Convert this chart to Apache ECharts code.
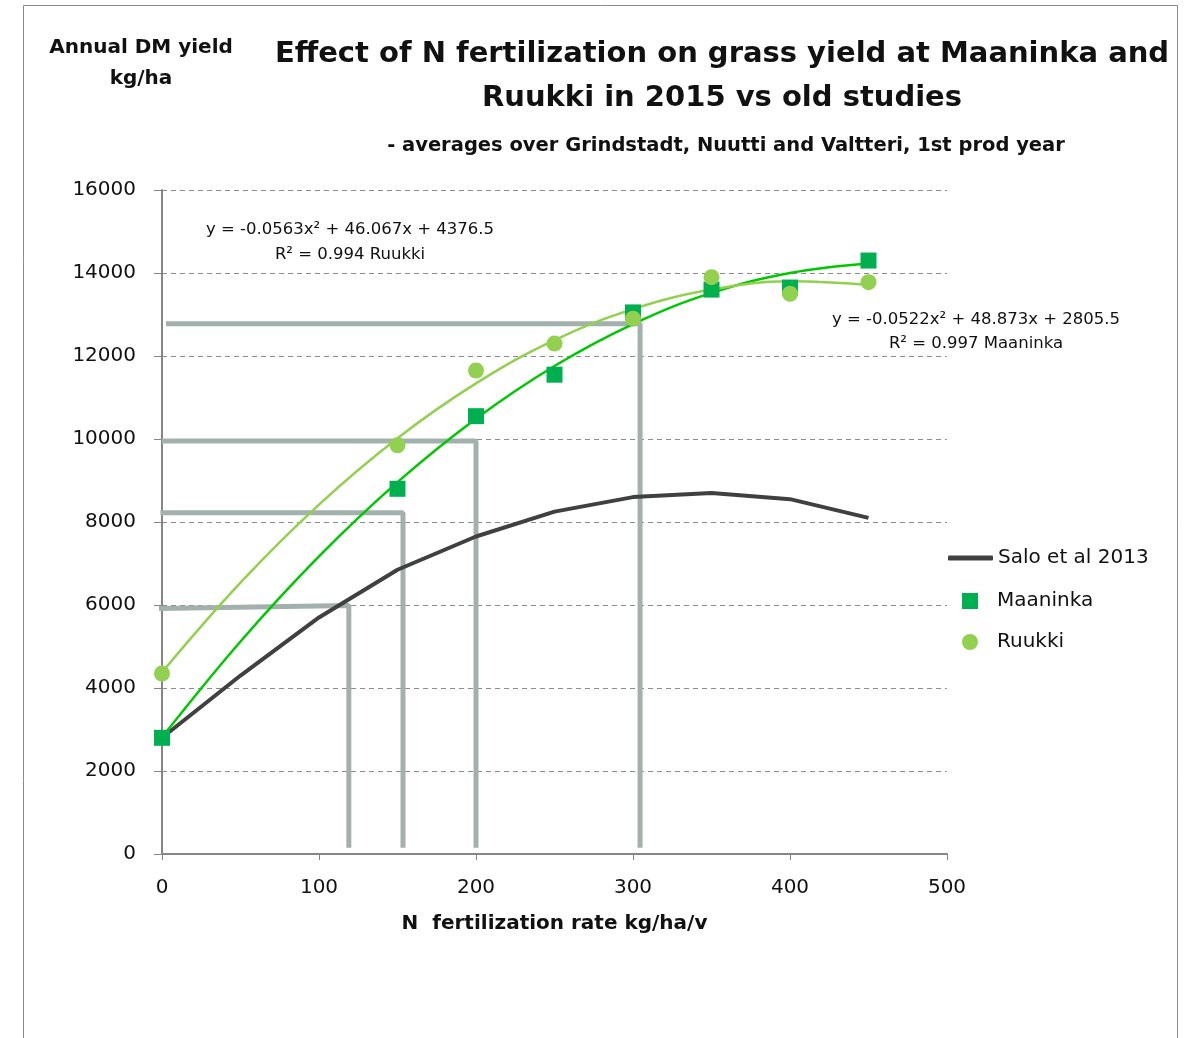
<!DOCTYPE html>
<html>
<head>
<meta charset="utf-8">
<script src="https://cdn.jsdelivr.net/npm/echarts@6/dist/echarts.min.js"></script>
<style>
html,body{margin:0;padding:0;background:#fff;}
#chart{width:1192px;height:1038px;}
</style>
</head>
<body>
<div id="chart"></div>
<script>
// ---- data ----
const rates = [0, 50, 100, 150, 200, 250, 300, 350, 400, 450];
const saloValues = [2800, 4300, 5700, 6850, 7650, 8250, 8600, 8700, 8550, 8100];

const measuredRates = [0, 150, 200, 250, 300, 350, 400, 450];
const maaninkaValues = [2800, 8800, 10550, 11550, 13050, 13600, 13650, 14300];
const ruukkiValues = [4350, 9850, 11650, 12300, 12900, 13900, 13500, 13780];

// trend curves
const maaninkaTrend = [2810, 5120, 7170, 8960, 10490, 11760, 12770, 13520, 14000, 14230];
const ruukkiTrend = [4380, 6540, 8420, 10020, 11340, 12380, 13130, 13600, 13800, 13710];

// helper (read-off) guide lines drawn on the chart
const guide1 = [[2.5, 12780], [304.5, 12780], [304.5, 150]];
const guide2 = [[0, 9950], [200, 9950], [200, 150]];
const guide3 = [[-1, 8220], [153.5, 8220], [153.5, 150]];
const guide4 = [[-7.5, 5910], [119, 5990], [119, 150]];

const xTicks = [0, 100, 200, 300, 400, 500];
const yTicks = [0, 2000, 4000, 6000, 8000, 10000, 12000, 14000, 16000];

const FONT = '"DejaVu Sans", Verdana, sans-serif';
const pair = (xs, ys) => xs.map((x, i) => [x, ys[i]]);

const guideStyle = { color: '#A3B1AE', width: 5 };
const guideSeries = [guide1, guide2, guide3, guide4].map((g, i) => ({
  name: 'guide' + i, type: 'line', data: g, symbol: 'none', clip: false,
  lineStyle: guideStyle, silent: true, z: 1, animation: false
}));

const chart = echarts.init(document.getElementById('chart'));
chart.setOption({
  animation: false,
  backgroundColor: '#fff',
  grid: { left: 162, right: 245, top: 190, bottom: 184 },
  xAxis: {
    type: 'value', min: xTicks[0], max: xTicks[xTicks.length - 1], interval: 100,
    axisLine: { lineStyle: { color: '#868686', width: 2 } },
    axisTick: { show: true, length: 6, lineStyle: { color: '#868686' } },
    axisLabel: { color: '#111', fontSize: 20, fontFamily: FONT, margin: 24 },
    splitLine: { show: false },
    name: 'N  fertilization rate kg/ha/v', nameLocation: 'middle', nameGap: 60,
    nameTextStyle: { color: '#111', fontSize: 20, fontWeight: 'bold', fontFamily: FONT }
  },
  yAxis: {
    type: 'value', min: yTicks[0], max: yTicks[yTicks.length - 1], interval: 2000,
    axisLine: { show: true, lineStyle: { color: '#868686', width: 2 } },
    axisTick: { show: true, length: 8, lineStyle: { color: '#868686' } },
    axisLabel: { color: '#111', fontSize: 20, fontFamily: FONT, margin: 26,
      formatter: v => String(v) },
    splitLine: { show: true, lineStyle: { color: '#8c8c8c', type: [5, 4], width: 1 } }
  },
  legend: [
    {
      data: [{ name: 'Salo et al 2013', icon: 'roundRect' }], orient: 'vertical', left: 948, top: 546,
      padding: 0, itemWidth: 45, itemHeight: 5,
      textStyle: { fontSize: 20, lineHeight: 24, color: '#111', fontFamily: FONT }
    },
    {
      data: [{ name: 'Maaninka', icon: 'rect' }, { name: 'Ruukki', icon: 'circle' }],
      orient: 'vertical', left: 962, top: 589, itemGap: 17, padding: 0,
      itemWidth: 16, itemHeight: 16,
      textStyle: { fontSize: 20, lineHeight: 24, color: '#111', fontFamily: FONT, padding: [0, 0, 0, 14] }
    }
  ],
  graphic: [
    { type: 'rect', shape: { x: 23.5, y: 5.5, width: 1154, height: 1060 },
      style: { fill: 'none', stroke: '#8a8a8a', lineWidth: 1 }, silent: true },
    { type: 'text', x: 141, y: 48, style: { text: 'Annual DM yield', align: 'center', verticalAlign: 'middle',
      font: 'bold 20px ' + FONT, fill: '#111' } },
    { type: 'text', x: 141, y: 79, style: { text: 'kg/ha', align: 'center', verticalAlign: 'middle',
      font: 'bold 20px ' + FONT, fill: '#111' } },
    { type: 'text', x: 722, y: 54, style: { text: 'Effect of N fertilization on grass yield at Maaninka and',
      align: 'center', verticalAlign: 'middle', font: 'bold 29px ' + FONT, fill: '#111' } },
    { type: 'text', x: 722, y: 98, style: { text: 'Ruukki in 2015 vs old studies',
      align: 'center', verticalAlign: 'middle', font: 'bold 29px ' + FONT, fill: '#111' } },
    { type: 'text', x: 726, y: 146, style: { text: '- averages over Grindstadt, Nuutti and Valtteri, 1st prod year',
      align: 'center', verticalAlign: 'middle', font: 'bold 19.5px ' + FONT, fill: '#111' } },
    { type: 'text', x: 350, y: 230, style: { text: 'y = -0.0563x\u00B2 + 46.067x + 4376.5',
      align: 'center', verticalAlign: 'middle', font: '16.5px ' + FONT, fill: '#111' } },
    { type: 'text', x: 350, y: 255, style: { text: 'R\u00B2 = 0.994 Ruukki',
      align: 'center', verticalAlign: 'middle', font: '16.5px ' + FONT, fill: '#111' } },
    { type: 'text', x: 976, y: 320, style: { text: 'y = -0.0522x\u00B2 + 48.873x + 2805.5',
      align: 'center', verticalAlign: 'middle', font: '16.5px ' + FONT, fill: '#111' } },
    { type: 'text', x: 976, y: 344, style: { text: 'R\u00B2 = 0.997 Maaninka',
      align: 'center', verticalAlign: 'middle', font: '16.5px ' + FONT, fill: '#111' } }
  ],
  series: guideSeries.concat([
    {
      name: 'Salo et al 2013', type: 'line', data: pair(rates, saloValues),
      symbol: 'none', lineStyle: { color: '#404040', width: 4 }, itemStyle: { color: '#404040' }, z: 3
    },
    {
      name: 'Maaninka trend', type: 'line', data: pair(rates, maaninkaTrend), smooth: 0.4,
      symbol: 'none', lineStyle: { color: '#00C800', width: 2.5 }, z: 4
    },
    {
      name: 'Ruukki trend', type: 'line', data: pair(rates, ruukkiTrend), smooth: 0.4,
      symbol: 'none', lineStyle: { color: '#92D050', width: 2.5 }, z: 4
    },
    {
      name: 'Maaninka', type: 'scatter', data: pair(measuredRates, maaninkaValues),
      symbol: 'rect', symbolSize: 16, itemStyle: { color: '#00B050', opacity: 1 }, z: 5
    },
    {
      name: 'Ruukki', type: 'scatter', data: pair(measuredRates, ruukkiValues),
      symbol: 'circle', symbolSize: 16, itemStyle: { color: '#92D050', opacity: 1 }, z: 5
    }
  ])
});
</script>
</body>
</html>
